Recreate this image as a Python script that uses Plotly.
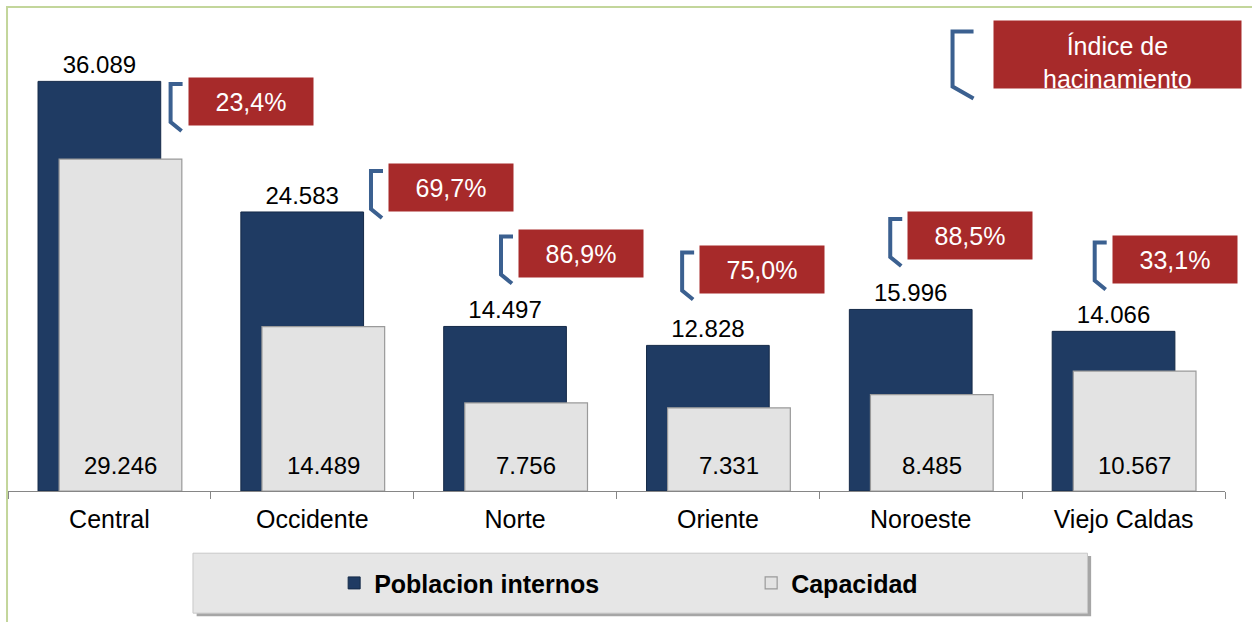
import plotly.graph_objects as go

# datos
categorias = ["Central", "Occidente", "Norte", "Oriente", "Noroeste", "Viejo Caldas"]
poblacion = [36089, 24583, 14497, 12828, 15996, 14066]
capacidad = [29246, 14489, 7756, 7331, 8485, 10567]
hacinamiento = [23.4, 69.7, 86.9, 75.0, 88.5, 33.1]

# ubicacion de las cajas rojas (desplazamiento sobre la categoria, altura en unidades del eje)
caja_dx = [0.696, 0.684, 0.325, 0.218, 0.244, 0.252]
caja_y = [34360, 26700, 20920, 19520, 22470, 20400]

FUENTE = "Arial, 'Liberation Sans', sans-serif"
AZUL = "#1f3b63"
GRIS = "#e3e3e3"
ROJO = "#a72a2a"
CORCHETE = "#3b6090"

ANCHO = 0.605
OFF_AZUL = -0.352
OFF_GRIS = -0.248


def fmt_miles(v):
    return f"{v:,}".replace(",", ".")


def fmt_pct(v):
    return f"{v:.1f}%".replace(".", ",")


fig = go.Figure()

fig.add_trace(go.Bar(
    x=categorias, y=poblacion, name="Poblacion internos",
    width=ANCHO, offset=OFF_AZUL,
    marker=dict(color=AZUL, line=dict(color="#152a48", width=1)),
    texttemplate="%{y:,.0f}", textposition="outside",
    textfont=dict(size=24, color="black", family=FUENTE),
    cliponaxis=False,
))
fig.add_trace(go.Bar(
    x=categorias, y=capacidad, name="Capacidad",
    width=ANCHO, offset=OFF_GRIS,
    marker=dict(color=GRIS, line=dict(color="#9a9a9a", width=1.2)),
))

anotaciones = []
formas = []

# valores de capacidad al pie de cada barra gris
for i, v in enumerate(capacidad):
    anotaciones.append(dict(
        x=i + OFF_GRIS + ANCHO / 2, y=0, xref="x", yref="y",
        text=fmt_miles(v), showarrow=False, yanchor="bottom", yshift=10,
        font=dict(size=24, color="black", family=FUENTE),
    ))

# cajas de indice de hacinamiento + corchetes
for i, p in enumerate(hacinamiento):
    cx = i + caja_dx[i]
    anotaciones.append(dict(
        x=cx, y=caja_y[i], xref="x", yref="y",
        text=fmt_pct(p), showarrow=False,
        xanchor="center", yanchor="middle",
        width=124, height=47, borderpad=0, bgcolor=ROJO,
        font=dict(size=25, color="white", family=FUENTE),
    ))
    formas.append(dict(
        type="path", xref="x", yref="y",
        xsizemode="pixel", ysizemode="pixel", xanchor=cx, yanchor=caja_y[i],
        path="M -68,17 L -80,17 L -80,-21 L -69,-30",
        line=dict(color=CORCHETE, width=4),
    ))

# caja titulo (fondo + texto algo mas abajo, como en el original)
anotaciones.append(dict(
    x=0.9117, y=0.9615, xref="paper", yref="paper",
    text=" ", showarrow=False,
    xanchor="center", yanchor="middle",
    width=247, height=67, borderpad=0, bgcolor=ROJO,
))
anotaciones.append(dict(
    x=0.9117, y=0.9615, xref="paper", yref="paper",
    text="Índice de<br>hacinamiento", showarrow=False,
    xanchor="center", yanchor="middle", yshift=-8,
    font=dict(size=25, color="white", family=FUENTE),
))
formas.append(dict(
    type="path", xref="paper", yref="paper",
    xsizemode="pixel", ysizemode="pixel", xanchor=0.9117, yanchor=0.9615,
    path="M -144,23 L -165,23 L -165,-32 L -144,-44",
    line=dict(color=CORCHETE, width=4),
))

# marco verde del grafico
formas.append(dict(
    type="rect", xref="paper", yref="paper",
    x0=-0.0008, x1=1.2, y0=-0.6, y1=1.066,
    line=dict(color="#c3d69b", width=2), layer="below",
))

# recuadro de la leyenda (sombra + caja)
formas.append(dict(
    type="rect", xref="paper", yref="paper",
    x0=0.155, x1=0.890, y0=-0.276, y1=-0.143,
    line=dict(width=0), fillcolor="#a6a6a6", layer="below",
))
formas.append(dict(
    type="rect", xref="paper", yref="paper",
    x0=0.152, x1=0.887, y0=-0.269, y1=-0.137,
    line=dict(color="#c8c8c8", width=1), fillcolor="#e6e6e6", layer="below",
))

fig.update_layout(
    width=1252, height=622, autosize=False,
    margin=dict(l=8, r=27, t=37, b=131),
    barmode="overlay",
    separators=",.",
    paper_bgcolor="white", plot_bgcolor="white",
    font=dict(family=FUENTE, color="black"),
    xaxis=dict(
        type="category", range=[-0.5, 5.5],
        showline=True, linecolor="#868686", linewidth=1,
        ticks="outside", tickson="boundaries", ticklen=7, tickcolor="#868686",
        tickfont=dict(size=25, color="black", family=FUENTE),
        ticklabelstandoff=6, showgrid=False, zeroline=False,
    ),
    yaxis=dict(range=[0, 40000], visible=False),
    showlegend=True,
    legend=dict(
        orientation="h", x=0.268, xanchor="left", y=-0.203, yanchor="middle",
        bgcolor="rgba(0,0,0,0)", traceorder="normal",
        entrywidth=372, entrywidthmode="pixels",
        font=dict(size=25, family=FUENTE, color="black", weight="bold"),
    ),
    annotations=anotaciones,
    shapes=formas,
)

# sin margen de pagina, para que la figura empiece en la esquina
fig.write_html(
    "out.html",
    config={"displayModeBar": False},
    post_script="document.body.style.margin='0';",
)
